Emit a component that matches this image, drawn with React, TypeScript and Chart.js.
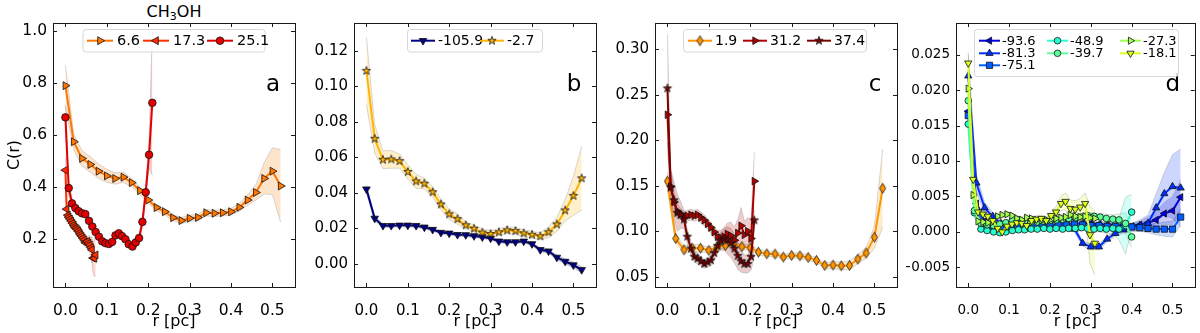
import React, { useEffect, useRef } from 'react';
import { Chart, registerables } from 'chart.js';
import { drawPoint } from 'chart.js/helpers';

Chart.register(...registerables);

// ---------------- data ----------------
const X_TICKS = [0, 0.1, 0.2, 0.3, 0.4, 0.5];
const Y_TICKS_A = [0.2, 0.4, 0.6, 0.8, 1.0];
const Y_TICKS_B = [0, 0.02, 0.04, 0.06, 0.08, 0.1, 0.12];
const Y_TICKS_C = [0.05, 0.1, 0.15, 0.2, 0.25, 0.3];
const Y_TICKS_D = [-0.005, 0, 0.005, 0.01, 0.015, 0.02, 0.025];

const R_052 = [0, 0.02, 0.04, 0.06, 0.08, 0.10, 0.12, 0.14, 0.16, 0.18, 0.20, 0.22, 0.24, 0.26, 0.28, 0.30, 0.32, 0.34, 0.36, 0.38, 0.40, 0.42, 0.44, 0.46, 0.48, 0.50, 0.52];
const R_021 = [0, 0.008, 0.016, 0.024, 0.032, 0.040, 0.048, 0.057, 0.065, 0.073, 0.081, 0.089, 0.097, 0.105, 0.113, 0.121, 0.129, 0.137, 0.145, 0.153, 0.162, 0.170, 0.178, 0.186, 0.194, 0.202, 0.210];
const R_007 = [0, 0.003, 0.006, 0.008, 0.011, 0.014, 0.017, 0.020, 0.022, 0.025, 0.028, 0.031, 0.034, 0.036, 0.039, 0.042, 0.045, 0.048, 0.050, 0.053, 0.056, 0.059, 0.062, 0.064, 0.067, 0.070, 0.073];
const R_040 = [0, 0.015, 0.031, 0.046, 0.062, 0.077, 0.092, 0.108, 0.123, 0.138, 0.154, 0.169, 0.185, 0.200, 0.215, 0.231, 0.246, 0.262, 0.277, 0.292, 0.308, 0.323, 0.338, 0.354, 0.369, 0.385, 0.400];
const R_031 = [0, 0.012, 0.024, 0.036, 0.048, 0.060, 0.072, 0.083, 0.095, 0.107, 0.119, 0.131, 0.143, 0.155, 0.167, 0.179, 0.191, 0.203, 0.215, 0.227, 0.238, 0.250, 0.262, 0.274, 0.286, 0.298, 0.310];

// panel a (C(r) and error)
const A_66 = [0.791, 0.575, 0.511, 0.488, 0.462, 0.444, 0.434, 0.439, 0.418, 0.387, 0.351, 0.322, 0.306, 0.283, 0.272, 0.281, 0.284, 0.302, 0.300, 0.302, 0.306, 0.323, 0.351, 0.380, 0.434, 0.462, 0.405];
const A_66_E = [0.08, 0.03, 0.03, 0.03, 0.028, 0.025, 0.022, 0.02, 0.016, 0.014, 0.013, 0.012, 0.012, 0.012, 0.012, 0.012, 0.012, 0.012, 0.012, 0.012, 0.013, 0.015, 0.02, 0.03, 0.06, 0.09, 0.14];
const A_173 = [0.466, 0.316, 0.293, 0.285, 0.278, 0.270, 0.262, 0.255, 0.248, 0.243, 0.238, 0.232, 0.225, 0.218, 0.212, 0.205, 0.198, 0.190, 0.185, 0.192, 0.185, 0.178, 0.168, 0.160, 0.128, 0.127, 0.140];
const A_173_E = [0.05, 0.03, 0.02, 0.02, 0.02, 0.02, 0.02, 0.02, 0.02, 0.02, 0.02, 0.02, 0.02, 0.02, 0.02, 0.02, 0.02, 0.02, 0.02, 0.02, 0.03, 0.03, 0.04, 0.05, 0.06, 0.07, 0.08];
const A_251 = [0.669, 0.397, 0.338, 0.320, 0.308, 0.300, 0.297, 0.271, 0.249, 0.228, 0.210, 0.192, 0.185, 0.182, 0.190, 0.215, 0.223, 0.212, 0.200, 0.181, 0.172, 0.188, 0.205, 0.267, 0.381, 0.525, 0.725];
const A_251_E = [0.05, 0.03, 0.02, 0.015, 0.015, 0.015, 0.015, 0.015, 0.015, 0.015, 0.01, 0.01, 0.01, 0.01, 0.01, 0.012, 0.012, 0.012, 0.012, 0.012, 0.012, 0.012, 0.015, 0.02, 0.03, 0.05, 0.28];

// panel b
const B_1059 = [0.0421, 0.0256, 0.0215, 0.0215, 0.0217, 0.0217, 0.0215, 0.0206, 0.0193, 0.0176, 0.0172, 0.0164, 0.0163, 0.0157, 0.0151, 0.0144, 0.0127, 0.0123, 0.0123, 0.0127, 0.0112, 0.0079, 0.0071, 0.0036, 0.0013, -0.0007, -0.0034];
const B_1059_E = [0.002, 0.0015, 0.001, 0.001, 0.001, 0.001, 0.001, 0.001, 0.001, 0.001, 0.001, 0.001, 0.001, 0.001, 0.001, 0.001, 0.001, 0.001, 0.001, 0.001, 0.001, 0.0012, 0.0012, 0.0014, 0.0015, 0.0016, 0.0018];
const B_27 = [0.1088, 0.0705, 0.0587, 0.0589, 0.0579, 0.0518, 0.0465, 0.0452, 0.0404, 0.0335, 0.0279, 0.0252, 0.0217, 0.0198, 0.0176, 0.0168, 0.0178, 0.0189, 0.0185, 0.0172, 0.0164, 0.0155, 0.0178, 0.0222, 0.0301, 0.0383, 0.0482];
const B_27_E = [0.019, 0.008, 0.005, 0.005, 0.004, 0.004, 0.004, 0.003, 0.003, 0.003, 0.003, 0.003, 0.002, 0.002, 0.002, 0.002, 0.002, 0.002, 0.002, 0.002, 0.002, 0.002, 0.003, 0.004, 0.006, 0.011, 0.018];

// panel c
const C_19 = [0.155, 0.092, 0.0796, 0.0814, 0.0814, 0.079, 0.0825, 0.0843, 0.086, 0.083, 0.0818, 0.077, 0.0752, 0.0749, 0.0716, 0.0734, 0.073, 0.0712, 0.0679, 0.0624, 0.0628, 0.062, 0.0624, 0.0694, 0.076, 0.0935, 0.1472];
const C_19_E = [0.01, 0.005, 0.004, 0.004, 0.004, 0.003, 0.003, 0.003, 0.003, 0.003, 0.003, 0.003, 0.003, 0.003, 0.003, 0.003, 0.003, 0.003, 0.003, 0.003, 0.004, 0.004, 0.005, 0.005, 0.006, 0.012, 0.043];
const C_312 = [0.228, 0.149, 0.132, 0.122, 0.119, 0.116, 0.117, 0.118, 0.117, 0.118, 0.115, 0.112, 0.108, 0.104, 0.099, 0.094, 0.093, 0.094, 0.097, 0.095, 0.090, 0.098, 0.106, 0.096, 0.100, 0.092, 0.155];
const C_312_E = [0.03, 0.02, 0.012, 0.008, 0.006, 0.006, 0.006, 0.006, 0.006, 0.006, 0.006, 0.006, 0.006, 0.006, 0.006, 0.007, 0.008, 0.01, 0.012, 0.015, 0.015, 0.015, 0.02, 0.015, 0.015, 0.02, 0.032];
const C_374 = [0.257, 0.148, 0.134, 0.120, 0.118, 0.113, 0.094, 0.081, 0.072, 0.070, 0.067, 0.064, 0.066, 0.068, 0.076, 0.084, 0.089, 0.091, 0.090, 0.087, 0.081, 0.073, 0.067, 0.064, 0.064, 0.072, 0.112];
const C_374_E = [0.06, 0.02, 0.02, 0.02, 0.015, 0.01, 0.008, 0.007, 0.006, 0.006, 0.005, 0.005, 0.005, 0.006, 0.007, 0.008, 0.01, 0.012, 0.015, 0.016, 0.016, 0.015, 0.012, 0.01, 0.01, 0.015, 0.04];

// panel d
const D_936 = [0.0170, 0.0040, 0.0015, 0.0010, 0.0006, 0.0007, 0.0008, 0.0009, 0.0008, 0.0009, 0.0009, 0.0010, 0.0011, 0.0011, 0.0012, 0.0012, 0.0011, 0.0010, 0.0009, 0.0009, 0.0008, 0.0010, 0.0013, 0.0017, 0.0026, 0.0030, 0.0049];
const D_936_E = [0.0010, 0.0006, 0.0004, 0.0003, 0.0003, 0.0003, 0.0003, 0.0003, 0.0003, 0.0003, 0.0003, 0.0003, 0.0003, 0.0003, 0.0003, 0.0003, 0.0003, 0.0003, 0.0003, 0.0004, 0.0004, 0.0005, 0.0008, 0.0012, 0.0016, 0.0020, 0.0025];
const D_813 = [0.0220, 0.0069, 0.0034, 0.0022, 0.0012, 0.0008, 0.0006, 0.0005, 0.0005, 0.0006, 0.0007, 0.0008, 0.0009, 0.0004, -0.0016, -0.0021, -0.0021, -0.0010, -0.0002, 0.0003, 0.0006, 0.0009, 0.0012, 0.0034, 0.0054, 0.0064, 0.0062];
const D_813_E = [0.0030, 0.0012, 0.0008, 0.0006, 0.0004, 0.0003, 0.0003, 0.0003, 0.0003, 0.0003, 0.0003, 0.0003, 0.0004, 0.0004, 0.0004, 0.0004, 0.0004, 0.0004, 0.0004, 0.0005, 0.0006, 0.0008, 0.0012, 0.0020, 0.0030, 0.0045, 0.0055];
const D_751 = [0.0164, 0.0030, 0.0012, 0.0008, 0.0007, 0.0007, 0.0008, 0.0009, 0.0008, 0.0008, 0.0009, 0.0010, 0.0010, 0.0011, 0.0010, 0.0009, 0.0009, 0.0008, 0.0008, 0.0007, 0.0007, 0.0006, 0.0005, 0.0004, 0.0004, 0.0004, 0.0021];
const D_751_E = [0.0010, 0.0005, 0.0003, 0.0003, 0.0003, 0.0003, 0.0003, 0.0003, 0.0003, 0.0003, 0.0003, 0.0003, 0.0003, 0.0003, 0.0003, 0.0003, 0.0003, 0.0003, 0.0003, 0.0003, 0.0004, 0.0005, 0.0006, 0.0008, 0.0010, 0.0011, 0.0012];
const D_489 = [0.0152, 0.0027, 0.0004, 0.0002, 0.0000, -0.0001, 0.0000, 0.0002, 0.0003, 0.0003, 0.0004, 0.0004, 0.0005, 0.0004, 0.0005, 0.0004, 0.0005, 0.0005, 0.0006, 0.0005, 0.0004, 0.0005, 0.0004, 0.0005, 0.0004, 0.0009, 0.0028];
const D_489_E = [0.0010, 0.0005, 0.0003, 0.0003, 0.0003, 0.0003, 0.0003, 0.0003, 0.0003, 0.0003, 0.0003, 0.0003, 0.0003, 0.0003, 0.0003, 0.0003, 0.0003, 0.0003, 0.0003, 0.0003, 0.0004, 0.0005, 0.0006, 0.0008, 0.0015, 0.0040, 0.0025];
const D_397 = [0.0185, 0.0030, 0.0012, 0.0010, 0.0009, 0.0011, 0.0013, 0.0016, 0.0017, 0.0015, 0.0014, 0.0014, 0.0015, 0.0016, 0.0017, 0.0018, 0.0019, 0.0020, 0.0021, 0.0023, 0.0022, 0.0021, 0.0019, 0.0018, 0.0017, 0.0012, -0.0007];
const D_397_E = [0.0012, 0.0006, 0.0004, 0.0004, 0.0004, 0.0004, 0.0004, 0.0004, 0.0004, 0.0004, 0.0004, 0.0004, 0.0004, 0.0004, 0.0004, 0.0004, 0.0004, 0.0004, 0.0004, 0.0005, 0.0005, 0.0005, 0.0006, 0.0006, 0.0008, 0.0015, 0.0015];
const D_273 = [0.0202, 0.0052, 0.0015, 0.0014, 0.0013, 0.0014, 0.0022, 0.0024, 0.0025, 0.0023, 0.0019, 0.0017, 0.0020, 0.0019, 0.0017, 0.0016, 0.0017, 0.0018, 0.0019, 0.0020, 0.0021, 0.0024, 0.0022, 0.0021, 0.0022, 0.0020, 0.0019];
const D_273_E = [0.0012, 0.0006, 0.0004, 0.0004, 0.0004, 0.0004, 0.0004, 0.0004, 0.0004, 0.0004, 0.0004, 0.0004, 0.0004, 0.0004, 0.0004, 0.0004, 0.0004, 0.0004, 0.0004, 0.0005, 0.0005, 0.0005, 0.0005, 0.0005, 0.0006, 0.0006, 0.0006];
const D_181 = [0.0238, 0.0074, 0.0028, 0.0025, 0.0022, 0.0016, 0.0005, 0.0000, 0.0008, 0.0011, 0.0013, 0.0012, 0.0009, 0.0016, 0.0018, 0.0019, 0.0016, 0.0023, 0.0028, 0.0040, 0.0043, 0.0033, 0.0032, 0.0035, 0.0040, -0.0004, -0.0016];
const D_181_E = [0.0015, 0.0008, 0.0005, 0.0005, 0.0005, 0.0005, 0.0005, 0.0005, 0.0005, 0.0005, 0.0005, 0.0005, 0.0005, 0.0005, 0.0005, 0.0005, 0.0005, 0.0006, 0.0008, 0.0010, 0.0012, 0.0012, 0.0012, 0.0012, 0.0015, 0.0040, 0.0045];

// ---------------- styling / layout ----------------
const FONT = "'DejaVu Sans', sans-serif";
const PLOT_T = 23;
const PLOT_B = 287;
const PLOT_W = 242;
const Y_AXIS_W = 50;
const X_AXIS_H = 46;
const X_MIN = -0.030;
const X_MAX = 0.5546;

type Marker = 'tri_r' | 'tri_l' | 'circle' | 'tri_d' | 'tri_u' | 'square' | 'star' | 'diamond';

type Series = { label: string; r: number[]; c: number[]; e: number[]; color: string; marker: Marker; size: number };

type Panel = {
  left: number; yMin: number; yMax: number; yTicks: number[]; yDec: number;
  series: Series[]; letter: string; tickSize: number; legendSize: number;
  yTitle?: string; legendBox: [number, number, number, number];
  legendCols: number[]; legendRows: number[]; legendCells: [number, number][];
  handleLen: number; textGap: number;
};

const imgCache: Record<string, HTMLCanvasElement> = {};
function markerImage(kind: 'star' | 'diamond', color: string, R: number): HTMLCanvasElement {
  const key = kind + color + R;
  if (imgCache[key]) return imgCache[key];
  const s = Math.ceil(R * 2 + 3);
  const cv = document.createElement('canvas');
  cv.width = s; cv.height = s;
  const g = cv.getContext('2d')!;
  const cx = s / 2, cy = s / 2;
  g.beginPath();
  if (kind === 'star') {
    for (let i = 0; i < 10; i++) {
      const ang = -Math.PI / 2 + (i * Math.PI) / 5;
      const rr = i % 2 === 0 ? R : R * 0.382;
      g.lineTo(cx + rr * Math.cos(ang), cy + rr * Math.sin(ang));
    }
  } else {
    g.moveTo(cx, cy - R);
    g.lineTo(cx + R * 0.6, cy);
    g.lineTo(cx, cy + R);
    g.lineTo(cx - R * 0.6, cy);
  }
  g.closePath();
  g.fillStyle = color;
  g.fill();
  g.lineWidth = 0.8;
  g.strokeStyle = '#111';
  g.stroke();
  imgCache[key] = cv;
  return cv;
}

function pointOpts(s: Series): { pointStyle: any; rotation: number; radius: number } {
  switch (s.marker) {
    case 'tri_r': return { pointStyle: 'triangle', rotation: 90, radius: s.size };
    case 'tri_l': return { pointStyle: 'triangle', rotation: -90, radius: s.size };
    case 'tri_d': return { pointStyle: 'triangle', rotation: 180, radius: s.size };
    case 'tri_u': return { pointStyle: 'triangle', rotation: 0, radius: s.size };
    case 'square': return { pointStyle: 'rect', rotation: 0, radius: s.size };
    case 'circle': return { pointStyle: 'circle', rotation: 0, radius: s.size };
    case 'star': return { pointStyle: markerImage('star', s.color, s.size), rotation: 0, radius: s.size };
    case 'diamond': return { pointStyle: markerImage('diamond', s.color, s.size), rotation: 0, radius: s.size };
  }
}

function hexA(hex: string, a: number) {
  const n = parseInt(hex.slice(1), 16);
  return `rgba(${(n >> 16) & 255},${(n >> 8) & 255},${n & 255},${a})`;
}

function fmt(v: number, d: number) {
  const s = Math.abs(v).toFixed(d);
  return v < -1e-12 ? '\u2212' + s : s;
}

const PANELS: Panel[] = [
  {
    left: 53, yMin: 0.0165, yMax: 1.032, yTicks: Y_TICKS_A, yDec: 1, letter: 'a', tickSize: 15.5, legendSize: 14.5,
    yTitle: 'C(r)', legendBox: [83, 29.5, 182, 22.5], legendCols: [87, 143, 207], legendRows: [40.7],
    legendCells: [[0, 0], [1, 0], [2, 0]], handleLen: 26, textGap: 4,
    series: [
      { label: '6.6', r: R_052, c: A_66, e: A_66_E, color: '#ff7600', marker: 'tri_r', size: 4.6 },
      { label: '17.3', r: R_007, c: A_173, e: A_173_E, color: '#ff2f00', marker: 'tri_l', size: 4.6 },
      { label: '25.1', r: R_021, c: A_251, e: A_251_E, color: '#e30000', marker: 'circle', size: 3.8 },
    ],
  },
  {
    left: 354, yMin: -0.0131, yMax: 0.1358, yTicks: Y_TICKS_B, yDec: 2, letter: 'b', tickSize: 15, legendSize: 14,
    legendBox: [407.5, 29.5, 135, 22.5], legendCols: [411, 480], legendRows: [40.7],
    legendCells: [[0, 0], [1, 0]], handleLen: 24, textGap: 3,
    series: [
      { label: '-105.9', r: R_052, c: B_1059, e: B_1059_E, color: '#000080', marker: 'tri_d', size: 4.4 },
      { label: '-2.7', r: R_052, c: B_27, e: B_27_E, color: '#ffb300', marker: 'star', size: 4.4 },
    ],
  },
  {
    left: 655, yMin: 0.0387, yMax: 0.3288, yTicks: Y_TICKS_C, yDec: 2, letter: 'c', tickSize: 15, legendSize: 14,
    legendBox: [683.5, 29.5, 183, 22.5], legendCols: [688, 743, 807], legendRows: [40.7],
    legendCells: [[0, 0], [1, 0], [2, 0]], handleLen: 24, textGap: 3,
    series: [
      { label: '1.9', r: R_052, c: C_19, e: C_19_E, color: '#ff9500', marker: 'diamond', size: 5 },
      { label: '31.2', r: R_021, c: C_312, e: C_312_E, color: '#b20000', marker: 'tri_r', size: 4.4 },
      { label: '37.4', r: R_021, c: C_374, e: C_374_E, color: '#800000', marker: 'star', size: 4.4 },
    ],
  },
  {
    left: 956, yMin: -0.00776, yMax: 0.02945, yTicks: Y_TICKS_D, yDec: 3, letter: 'd', tickSize: 13.5, legendSize: 13,
    legendBox: [974.5, 29.5, 204, 47], legendCols: [979, 1047, 1120], legendRows: [40.7, 53.3, 65.3],
    legendCells: [[0, 0], [0, 1], [0, 2], [1, 0], [1, 1], [2, 0], [2, 1]], handleLen: 21, textGap: 2,
    series: [
      { label: '-93.6', r: R_052, c: D_936, e: D_936_E, color: '#0000e3', marker: 'tri_l', size: 4.2 },
      { label: '-81.3', r: R_052, c: D_813, e: D_813_E, color: '#0030ff', marker: 'tri_u', size: 4.2 },
      { label: '-75.1', r: R_052, c: D_751, e: D_751_E, color: '#005cff', marker: 'square', size: 4.4 },
      { label: '-48.9', r: R_040, c: D_489, e: D_489_E, color: '#27ffd0', marker: 'circle', size: 3.3 },
      { label: '-39.7', r: R_040, c: D_397, e: D_397_E, color: '#5cff9b', marker: 'circle', size: 3.3 },
      { label: '-27.3', r: R_031, c: D_273, e: D_273_E, color: '#a3ff53', marker: 'tri_r', size: 4.2 },
      { label: '-18.1', r: R_031, c: D_181, e: D_181_E, color: '#d8ff1f', marker: 'tri_d', size: 4.2 },
    ],
  },
];

function framePlugin(p: Panel) {
  return {
    id: 'frame_' + p.letter,
    afterDraw(chart: any) {
      const { ctx, chartArea, scales } = chart;
      const { left, right, top, bottom } = chartArea;
      ctx.save();
      ctx.strokeStyle = '#1a1a1a';
      ctx.lineWidth = 1;
      ctx.beginPath();
      const tl = 4;
      for (const t of scales.x.ticks) {
        const px = Math.round(scales.x.getPixelForValue(t.value)) + 0.5;
        ctx.moveTo(px, bottom); ctx.lineTo(px, bottom - tl);
        ctx.moveTo(px, top); ctx.lineTo(px, top + tl);
      }
      for (const t of scales.y.ticks) {
        const py = Math.round(scales.y.getPixelForValue(t.value)) + 0.5;
        ctx.moveTo(left, py); ctx.lineTo(left + tl, py);
        ctx.moveTo(right, py); ctx.lineTo(right - tl, py);
      }
      ctx.stroke();
      ctx.strokeRect(Math.round(left) + 0.5, Math.round(top) + 0.5, Math.round(right - left), Math.round(bottom - top));
      // panel letter
      ctx.fillStyle = '#000';
      ctx.font = `23px ${FONT}`;
      ctx.textAlign = 'center';
      ctx.textBaseline = 'alphabetic';
      ctx.fillText(p.letter, right - 22, top + 68);
      // legend
      const [bx, by, bw, bh] = p.legendBox;
      ctx.beginPath();
      const rr = 3;
      ctx.moveTo(bx + rr, by);
      ctx.arcTo(bx + bw, by, bx + bw, by + bh, rr);
      ctx.arcTo(bx + bw, by + bh, bx, by + bh, rr);
      ctx.arcTo(bx, by + bh, bx, by, rr);
      ctx.arcTo(bx, by, bx + bw, by, rr);
      ctx.closePath();
      ctx.fillStyle = 'rgba(255,255,255,0.85)';
      ctx.fill();
      ctx.strokeStyle = '#d6d6d6';
      ctx.lineWidth = 1;
      ctx.stroke();
      p.series.forEach((s, i) => {
        const [col, row] = p.legendCells[i];
        const hx = p.legendCols[col];
        const hy = p.legendRows[row];
        ctx.strokeStyle = s.color;
        ctx.lineWidth = 2;
        ctx.beginPath();
        ctx.moveTo(hx, hy); ctx.lineTo(hx + p.handleLen, hy);
        ctx.stroke();
        const po = pointOpts(s);
        ctx.fillStyle = s.color;
        ctx.strokeStyle = '#111';
        ctx.lineWidth = 0.8;
        drawPoint(ctx, { pointStyle: po.pointStyle, rotation: po.rotation, radius: po.radius, borderWidth: 0.8 } as any, hx + p.handleLen / 2, hy);
        ctx.fillStyle = '#000';
        ctx.font = `${p.legendSize}px ${FONT}`;
        ctx.textAlign = 'left';
        ctx.textBaseline = 'middle';
        ctx.fillText(s.label, hx + p.handleLen + p.textGap, hy + 0.5);
      });
      ctx.restore();
    },
  };
}

function buildConfig(p: Panel): any {
  const datasets: any[] = [];
  const n = p.series.length;
  p.series.forEach((s, k) => {
    datasets.push({
      label: s.label + ' upper',
      data: s.r.map((x, i) => ({ x, y: s.c[i] + s.e[i] })),
      borderColor: 'rgba(120,120,120,0.35)', borderWidth: 0.8, pointRadius: 0,
      fill: false, tension: 0, order: 100 + k,
    });
    datasets.push({
      label: s.label + ' lower',
      data: s.r.map((x, i) => ({ x, y: s.c[i] - s.e[i] })),
      borderColor: 'rgba(120,120,120,0.35)', borderWidth: 0.8, pointRadius: 0,
      fill: '-1', backgroundColor: hexA(s.color, 0.2), tension: 0, order: 100 + k,
    });
  });
  p.series.forEach((s, k) => {
    const po = pointOpts(s);
    datasets.push({
      label: s.label,
      data: s.r.map((x, i) => ({ x, y: s.c[i] })),
      borderColor: s.color, borderWidth: 2, tension: 0, fill: false,
      pointStyle: po.pointStyle, pointRotation: po.rotation, pointRadius: po.radius,
      pointBackgroundColor: s.color, pointBorderColor: '#111', pointBorderWidth: 0.8,
      order: n - k,
    });
  });
  const tickFont = { family: FONT, size: p.tickSize };
  return {
    type: 'line',
    data: { datasets },
    options: {
      responsive: false, maintainAspectRatio: false, animation: false, devicePixelRatio: 1,
      events: [],
      layout: { padding: { left: p.left - Y_AXIS_W, right: 1200 - (p.left + PLOT_W), top: PLOT_T, bottom: 333 - PLOT_B - X_AXIS_H } },
      plugins: { legend: { display: false }, tooltip: { enabled: false } },
      scales: {
        x: {
          type: 'linear', min: X_MIN, max: X_MAX,
          afterBuildTicks: (s: any) => { s.ticks = X_TICKS.map((v) => ({ value: v })); },
          afterFit: (s: any) => { s.height = X_AXIS_H; },
          grid: { display: false, drawTicks: false }, border: { display: false },
          ticks: { font: tickFont, color: '#000', padding: 15, maxRotation: 0, autoSkip: false, callback: (v: number) => fmt(v, 1) },
          title: { display: true, text: 'r [pc]', font: { family: FONT, size: 16 }, color: '#000', padding: { top: 0, bottom: 2 } },
        },
        y: {
          type: 'linear', min: p.yMin, max: p.yMax,
          afterBuildTicks: (s: any) => { s.ticks = p.yTicks.map((v) => ({ value: v })); },
          afterFit: (s: any) => { s.width = Y_AXIS_W; },
          grid: { display: false, drawTicks: false }, border: { display: false },
          ticks: { font: tickFont, color: '#000', padding: 6, autoSkip: false, callback: (v: number) => fmt(v, p.yDec) },
          title: { display: !!p.yTitle, text: p.yTitle || '', font: { family: FONT, size: 16 }, color: '#000', padding: { top: 2, bottom: 2 } },
        },
      },
    },
    plugins: [framePlugin(p)],
  };
}

function PanelChart({ panel }: { panel: Panel }) {
  const ref = useRef<HTMLCanvasElement>(null);
  useEffect(() => {
    const chart = new Chart(ref.current as HTMLCanvasElement, buildConfig(panel));
    return () => chart.destroy();
  }, [panel]);
  return (
    <canvas ref={ref} width={1200} height={333}
      style={{ position: 'absolute', left: 0, top: 0, width: 1200, height: 333 }} />
  );
}

export default function App() {
  return (
    <div style={{ position: 'fixed', left: 0, top: 0, width: 1200, height: 333, background: '#fff', overflow: 'hidden' }}>
      <div style={{ position: 'absolute', left: 53, top: 1, width: 242, textAlign: 'center', fontFamily: FONT, fontSize: 16, lineHeight: '22px', color: '#000' }}>
        CH<sub style={{ fontSize: 11, verticalAlign: '-3px', lineHeight: 0 }}>3</sub>OH
      </div>
      {PANELS.map((p) => (
        <PanelChart key={p.letter} panel={p} />
      ))}
    </div>
  );
}
